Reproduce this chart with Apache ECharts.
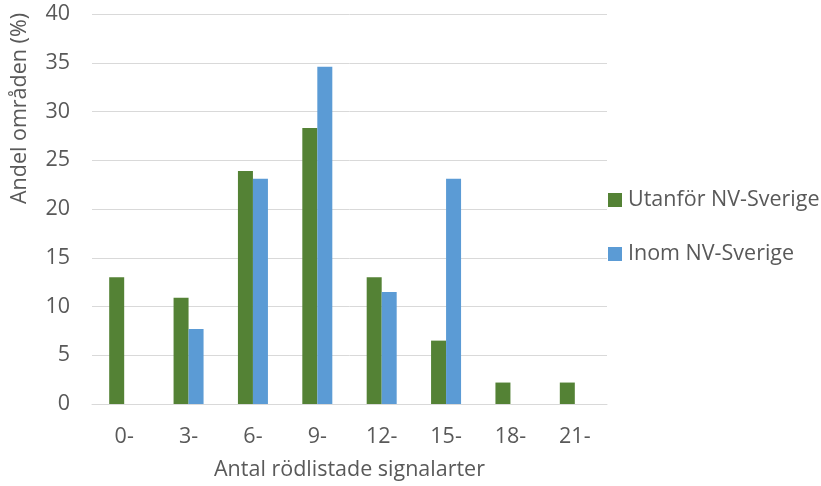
<!DOCTYPE html>
<html>
<head>
<meta charset="utf-8">
<script src="https://cdn.jsdelivr.net/npm/echarts@6/dist/echarts.min.js"></script>
<style>
  html, body { margin: 0; padding: 0; background: #fff; }
  #chart { width: 821px; height: 486px; }
</style>
</head>
<body>
<div id="chart"></div>
<script>
// Number of red-listed indicator species per area (class start)
const categories = ['0-', '3-', '6-', '9-', '12-', '15-', '18-', '21-'];
// Share of areas (%) per class
const outsideNW = [13.0, 10.9, 23.9, 28.3, 13.0, 6.5, 2.2, 2.2];
const insideNW = [0, 7.7, 23.1, 34.6, 11.5, 23.1, 0, 0];
const seriesNames = ['Utanför NV-Sverige', 'Inom NV-Sverige'];
const xTitle = 'Antal rödlistade signalarter';
const yTitle = 'Andel områden (%)';

const font = '"Open Sans", Lato, sans-serif';
const textColor = '#595959';
const fontSize = 21.5;

const chart = echarts.init(document.getElementById('chart'), null, { renderer: 'canvas' });
chart.setOption({
  animation: false,
  backgroundColor: '#ffffff',
  grid: { left: 92, right: 214, top: 14, bottom: 82, containLabel: false },
  legend: {
    orient: 'vertical',
    left: 608,
    top: 189,
    padding: 0,
    itemWidth: 14,
    itemHeight: 14,
    itemGap: 32,
    icon: 'rect',
    textStyle: { fontFamily: font, fontSize: fontSize, color: textColor, padding: [0, 0, 0, 1] },
    data: seriesNames
  },
  xAxis: {
    type: 'category',
    data: categories,
    axisLine: { show: true, lineStyle: { color: '#d9d9d9', width: 1 } },
    axisTick: { show: false },
    axisLabel: { fontFamily: font, fontSize: fontSize, color: textColor, margin: 22 },
    name: xTitle,
    nameLocation: 'middle',
    nameGap: 55,
    nameTextStyle: { fontFamily: font, fontSize: fontSize, color: textColor }
  },
  yAxis: {
    type: 'value',
    min: 0,
    max: 40,
    interval: 5,
    axisLine: { show: false },
    axisTick: { show: false },
    axisLabel: { fontFamily: font, fontSize: fontSize, color: textColor, margin: 22 },
    splitLine: { lineStyle: { color: '#d9d9d9', width: 1 } }
  },
  graphic: [{
    type: 'text',
    left: 9,
    top: 13,
    rotation: Math.PI / 2,
    style: {
      text: yTitle,
      fontFamily: font,
      fontSize: fontSize,
      fill: textColor
    }
  }],
  series: [
    {
      name: seriesNames[0],
      type: 'bar',
      data: outsideNW,
      barWidth: 15,
      barGap: '0%',
      itemStyle: { color: '#548235' }
    },
    {
      name: seriesNames[1],
      type: 'bar',
      data: insideNW,
      barWidth: 15,
      barGap: '0%',
      itemStyle: { color: '#5b9bd5' }
    }
  ]
});
</script>
</body>
</html>
